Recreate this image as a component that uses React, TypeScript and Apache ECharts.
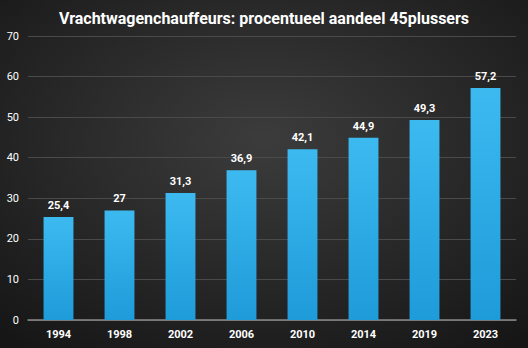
import React, { useEffect, useRef } from "react";
import * as echarts from "echarts";

const categories = ["1994", "1998", "2002", "2006", "2010", "2014", "2019", "2023"];
const values = [25.4, 27, 31.3, 36.9, 42.1, 44.9, 49.3, 57.2];
const titleText = "Vrachtwagenchauffeurs: procentueel aandeel 45plussers";

export default function App() {
  const ref = useRef<HTMLDivElement>(null);
  useEffect(() => {
    const chart = echarts.init(ref.current!, null, { renderer: "svg" });
    chart.setOption({
      animation: false,
      backgroundColor: {
        type: "radial",
        x: 0.5,
        y: 0.4,
        r: 0.75,
        colorStops: [
          { offset: 0, color: "#3c3c3c" },
          { offset: 1, color: "#161616" },
        ],
      },
      title: {
        text: titleText,
        left: "center",
        top: 5,
        textStyle: { color: "#ffffff", fontSize: 16, fontWeight: "bold", fontFamily: "Roboto" },
      },
      grid: { left: 28, right: 12, top: 36, bottom: 28 },
      xAxis: {
        type: "category",
        data: categories,
        axisLine: { lineStyle: { color: "#8a8a8a", width: 1.5 } },
        axisTick: { show: false },
        axisLabel: { color: "#ffffff", fontWeight: "bold", fontSize: 11, fontFamily: "Roboto", margin: 9 },
      },
      yAxis: {
        type: "value",
        min: 0,
        max: 70,
        interval: 10,
        axisLine: { show: false },
        axisTick: { show: false },
        splitLine: { lineStyle: { color: "#4a4a4a", width: 1 } },
        axisLabel: { color: "#ffffff", fontSize: 11, fontFamily: "Roboto", margin: 9 },
      },
      series: [
        {
          type: "bar",
          data: values,
          barWidth: "49%",
          itemStyle: {
            color: {
              type: "linear",
              x: 0, y: 0, x2: 0, y2: 1,
              colorStops: [
                { offset: 0, color: "#3cbaf0" },
                { offset: 1, color: "#1e9bd9" },
              ],
            },
          },
          label: {
            show: true,
            position: "top",
            distance: 6,
            color: "#ffffff",
            fontWeight: "bold",
            fontSize: 11,
            fontFamily: "Roboto",
            formatter: (p: any) => String(p.value).replace(".", ","),
          },
        },
      ],
    });
    return () => chart.dispose();
  }, []);
  return <div ref={ref} style={{ width: 528, height: 348, position: "absolute", left: 0, top: 0 }} />;
}
